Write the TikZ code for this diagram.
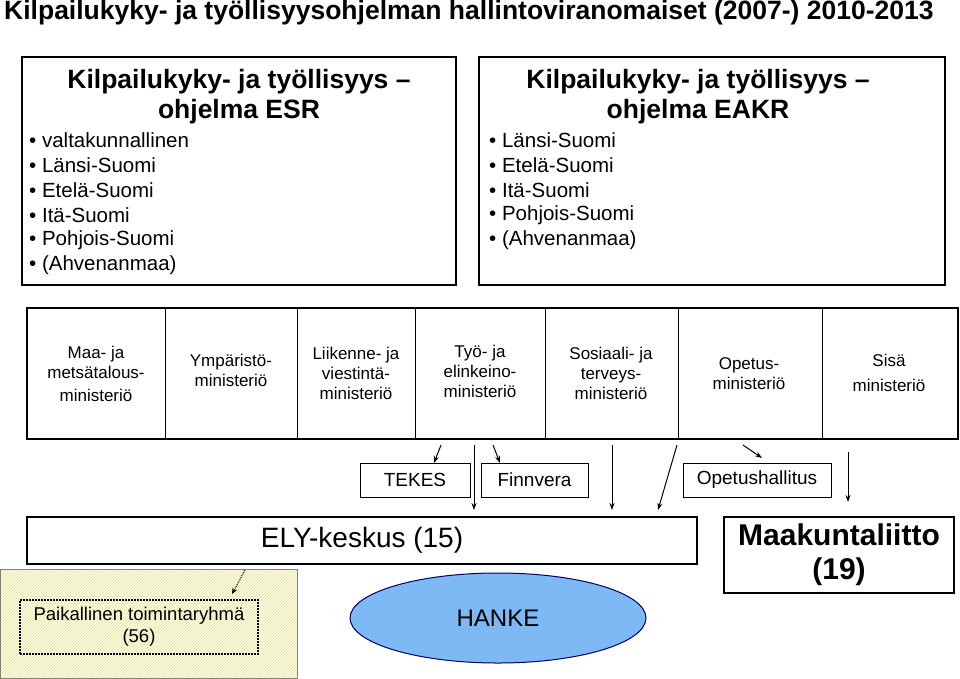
\documentclass[tikz,border=0pt]{standalone}
\usepackage{fontspec}
\setmainfont{Liberation Sans}
\usetikzlibrary{patterns,arrows.meta,shapes.geometric}
\begin{document}
\begin{tikzpicture}[x=1pt,y=-1pt,
  bx/.style={draw,line width=2.2pt},
  thin box/.style={draw,line width=1pt},
  arr/.style={-{Stealth[length=7pt,width=5pt]},line width=1pt},
  mtxt/.style={font=\fontsize{17}{20}\selectfont,align=center},
  bul/.style={anchor=west,font=\fontsize{20.5}{22}\selectfont,inner sep=0pt}]
\useasboundingbox (0,0) rectangle (960,678);
\node[anchor=west,font=\bfseries\fontsize{26.5}{30}\selectfont,inner sep=0pt] (title) at (4,13) {Kilpailukyky- ja työllisyysohjelman hallintoviranomaiset (2007-) 2010-2013};
% ESR
\draw[bx] (22,57) rectangle (456,285);
\node[font=\bfseries\fontsize{26.5}{30}\selectfont,align=center] (esrh) at (239,97) {Kilpailukyky- ja työllisyys –\\ohjelma ESR};
\foreach \t [count=\i] in {valtakunnallinen,Länsi-Suomi,Etelä-Suomi,Itä-Suomi,Pohjois-Suomi,(Ahvenanmaa)}
  \node[bul] (e\i) at (29,{115+25*\i}) {• \t};
% EAKR
\draw[bx] (479,57) rectangle (945,285);
\node[font=\bfseries\fontsize{26.5}{30}\selectfont,align=center] (eakrh) at (698,97) {Kilpailukyky- ja työllisyys –\\ohjelma EAKR};
\foreach \t [count=\i] in {Länsi-Suomi,Etelä-Suomi,Itä-Suomi,Pohjois-Suomi,(Ahvenanmaa)}
  \node[bul] (k\i) at (489,{115+25*\i}) {• \t};
% ministries
\draw[line width=2.2pt] (27,308) rectangle (958,439);
\foreach \x in {165,297,415,545,678,822} \draw[line width=0.8pt] (\x,308) -- (\x,439);
\node[mtxt] (m1) at (96,374) {Maa- ja\\metsätalous-\\[3pt]ministeriö};
\node[mtxt] (m2) at (231,370) {Ympäristö-\\ministeriö};
\node[mtxt] (m3) at (356,373) {Liikenne- ja\\viestintä-\\ministeriö};
\node[mtxt] (m4) at (480,371) {Työ- ja\\elinkeino-\\ministeriö};
\node[mtxt] (m5) at (611,373) {Sosiaali- ja\\terveys-\\ministeriö};
\node[mtxt] (m6) at (749,374) {Opetus-\\ministeriö};
\node[mtxt] (m7) at (889,373) {Sisä\\[5pt]ministeriö};
% agencies
\tikzset{ag/.style={thin box,font=\fontsize{19}{22}\selectfont,minimum height=34pt,inner sep=0pt}}
\node[ag,minimum width=110pt] (tekes) at (415,480) {TEKES};
\node[ag,minimum width=107pt] (finn) at (534.5,480) {Finnvera};
\node[ag,minimum width=148pt] (opet) at (757,480) {Opetushallitus};
% lower boxes
\node[bx,minimum width=670pt,minimum height=47pt,inner sep=0pt] (ely) at (362,540.5) {};
\node[font=\fontsize{28}{32}\selectfont] (elyt) at (362,540) {ELY-keskus (15)};
\node[bx,minimum width=230pt,minimum height=76pt,inner sep=0pt,font=\bfseries\fontsize{30}{34}\selectfont,align=center] (maak) at (839,555) {Maakuntaliitto\\(19)};
\fill[yellow!15] (0,569) rectangle (297,678);
\fill[pattern=north east lines,pattern color=yellow!45!gray!40] (0,569) rectangle (297,678);
\draw[gray,line width=1pt] (0,569) rectangle (297,678);
\node[draw,densely dotted,line width=2pt,minimum width=238pt,minimum height=54pt,font=\fontsize{18.5}{22}\selectfont,align=center,inner sep=0pt] (plt) at (139,627) {Paikallinen toimintaryhmä\\(56)};
\node[ellipse,draw=blue!40!black,line width=1pt,fill={rgb,255:red,125;green,185;blue,245},minimum width=296pt,minimum height=90pt,font=\fontsize{24}{28}\selectfont] (hanke) at (498,618) {\raisebox{-4pt}{HANKE}};
% arrows
\coordinate (s1) at (441,445); \coordinate (t1) at (434,463);
\coordinate (s2) at (474,445); \coordinate (t2) at (474,510);
\coordinate (s3) at (493,445); \coordinate (t3) at (500,463);
\coordinate (s4) at (612,445); \coordinate (t4) at (612,510);
\coordinate (s5) at (677,445); \coordinate (t5) at (658,510);
\coordinate (s6) at (743,445); \coordinate (t6) at (762,458);
\coordinate (s7) at (848,452); \coordinate (t7) at (848,502);
\foreach \i in {1,...,7} \draw[arr] (s\i) -- (t\i);
\coordinate (d1) at (245,570); \coordinate (d2) at (232,594);
\draw[-{Stealth[length=6pt,width=5pt]},densely dotted,line width=1pt] (d1) -- (d2);
\end{tikzpicture}
\end{document}
